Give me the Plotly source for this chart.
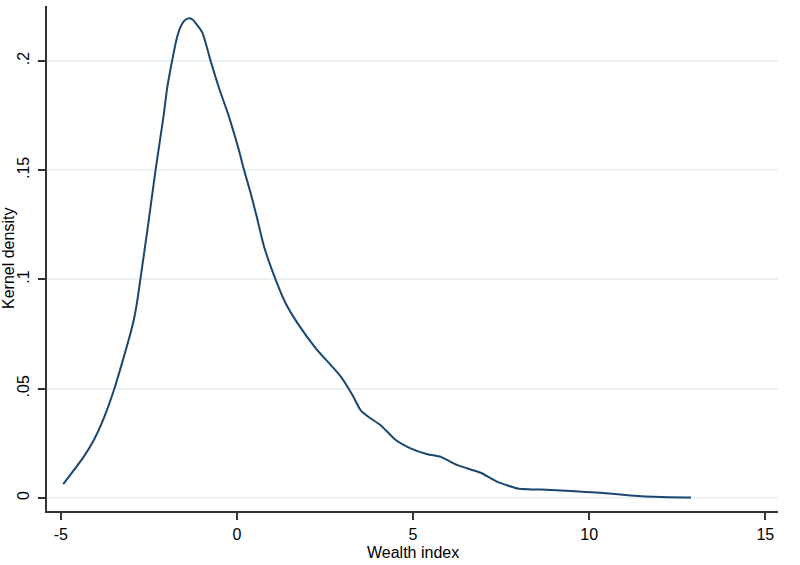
import plotly.graph_objects as go

# Kernel density estimate
wealth_index = [-4.93, -4.35, -4.06, -3.78, -3.49, -3.26, -3.02, -2.92, -2.83,
                -2.74, -2.52, -2.31, -2.08, -1.98, -1.84, -1.69, -1.55, -1.45,
                -1.36, -1.26, -1.17, -0.98, -0.75, -0.51, -0.23, 0.06, 0.20,
                0.39, 0.56, 0.77, 1.10, 1.38, 1.72, 2.24, 2.66, 2.95, 3.28,
                3.51, 3.75, 4.08, 4.51, 4.93, 5.41, 5.79, 6.26, 6.92, 7.40,
                7.97, 8.34, 8.63, 9.48, 10.33, 11.18, 12.04, 12.89]
density = [0.0063, 0.0188, 0.0265, 0.0364, 0.0494, 0.0617, 0.0754, 0.0820,
           0.0900, 0.1000, 0.1250, 0.1500, 0.1750, 0.1875, 0.2000, 0.2115,
           0.2172, 0.2190, 0.2196, 0.2190, 0.2174, 0.2130, 0.2003, 0.1878,
           0.1748, 0.1590, 0.1503, 0.1396, 0.1289, 0.1151, 0.0999, 0.0892,
           0.0800, 0.0685, 0.0609, 0.0555, 0.0471, 0.0402, 0.0369, 0.0333,
           0.0265, 0.0227, 0.0200, 0.0188, 0.0150, 0.0115, 0.0073, 0.0043,
           0.0039, 0.0038, 0.0031, 0.0023, 0.0011, 0.0004, 0.0002]

x_ticks = [-5, 0, 5, 10, 15]
x_labels = ["-5", "0", "5", "10", "15"]
y_ticks = [0, 0.05, 0.1, 0.15, 0.2]
y_labels = ["0", ".05", ".1", ".15", ".2"]

fig = go.Figure()

fig.add_trace(go.Scatter(
    x=wealth_index,
    y=density,
    mode='lines',
    line=dict(color='#1a476f', width=2, shape='spline', smoothing=0.6),
    showlegend=False
))

axis_font = dict(family="Liberation Sans, Arial, sans-serif", size=16, color="#000000")

fig.update_layout(
    width=800,
    height=565,
    paper_bgcolor='white',
    plot_bgcolor='white',
    margin=dict(l=47, r=22, t=6, b=54),
    font=axis_font,
    xaxis=dict(
        range=[-5.39, 15.36],
        tickvals=x_ticks,
        ticktext=x_labels,
        ticks='outside', ticklen=7, tickwidth=1.5, tickcolor='#333333',
        ticklabelstandoff=1,
        showline=True, linecolor='#333333', linewidth=1.5,
        showgrid=False, zeroline=False,
        automargin=False,
        tickfont=axis_font,
    ),
    yaxis=dict(
        range=[-0.006, 0.2252],
        tickvals=y_ticks,
        ticktext=y_labels,
        tickangle=-90,
        ticks='outside', ticklen=7, tickwidth=1.5, tickcolor='#333333',
        ticklabelstandoff=3,
        showline=True, linecolor='#333333', linewidth=1.5,
        showgrid=True, gridcolor='#eaf2f3', gridwidth=1.5,
        zeroline=False,
        automargin=False,
        tickfont=axis_font,
    ),
)

# Axis titles placed by hand so the margins stay fixed
fig.add_annotation(
    text="Wealth index", xref="paper", yref="paper",
    x=0.5, y=0, xanchor='center', yanchor='top', yshift=-31,
    showarrow=False, font=axis_font
)
fig.add_annotation(
    text="Kernel density", xref="paper", yref="paper",
    x=0, y=0.5, xanchor='right', yanchor='middle', xshift=-28,
    textangle=-90, showarrow=False, font=axis_font
)

# drop the default body margin so the figure sits at the page corner
fig.write_html("out.html", config={'displayModeBar': False},
               post_script="document.body.style.margin='0';")
